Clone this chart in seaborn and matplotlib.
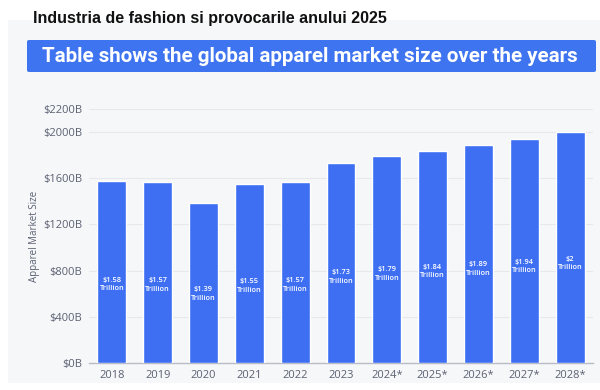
import matplotlib
matplotlib.use("Agg")
import matplotlib.pyplot as plt
import seaborn as sns
import pandas as pd
from matplotlib.patches import Rectangle, FancyBboxPatch

# chart data
years = ["2018", "2019", "2020", "2021", "2022", "2023",
         "2024*", "2025*", "2026*", "2027*", "2028*"]
market_size = [1580, 1570, 1390, 1550, 1570, 1730, 1790, 1840, 1890, 1940, 2000]  # $ billions
bar_labels = ["$1.58", "$1.57", "$1.39", "$1.55", "$1.57", "$1.73",
              "$1.79", "$1.84", "$1.89", "$1.94", "$2"]
y_ticks = [0, 400, 800, 1200, 1600, 2000, 2200]

df = pd.DataFrame({"year": years, "size": market_size})

sns.set_style("white")
plt.rcParams["font.family"] = ["Open Sans", "DejaVu Sans"]

bar_blue = "#3e6ff3"
grey_txt = "#5b6172"
panel = "#f6f7f9"

fig = plt.figure(figsize=(6, 3.9), dpi=100)
fig.patch.set_facecolor("white")

# light grey panel behind the chart
fig.patches.append(Rectangle((8 / 600, 7 / 390), 1, 363 / 390, transform=fig.transFigure,
                             facecolor=panel, edgecolor="none", zorder=-2))
# blue banner
fig.patches.append(FancyBboxPatch((27 / 600, 318 / 390), 569 / 600, 32 / 390,
                                  boxstyle="round,pad=0,rounding_size=0.004",
                                  transform=fig.transFigure, facecolor="#3f74f1",
                                  edgecolor="none", zorder=-1))

fig.text(33 / 600, 371 / 390, "Industria de fashion si provocarile anului 2025",
         fontsize=11.5, fontweight="bold", family=["Liberation Sans", "DejaVu Sans"],
         color="#111111", va="center", ha="left")
fig.text(310 / 600, 334 / 390, "Table shows the global apparel market size over the years",
         fontsize=14.8, fontweight="bold", family=["Roboto", "DejaVu Sans"],
         color="white", va="center", ha="center")

ax = fig.add_axes([89 / 600, 27 / 390, 504 / 600, 254 / 390])
ax.set_facecolor(panel)
sns.barplot(data=df, x="year", y="size", color=bar_blue, saturation=1,
            width=0.63, ax=ax, zorder=3)

ax.set_ylim(0, 2200)
ax.set_xlim(-0.5, len(years) - 0.5)
ax.set_yticks(y_ticks)
ax.set_yticklabels([f"${t}B" for t in y_ticks])
ax.yaxis.grid(True, color="#e6e8ec", linewidth=0.8, zorder=0)
ax.set_axisbelow(True)
for s in ["top", "right", "left"]:
    ax.spines[s].set_visible(False)
ax.spines["bottom"].set_color("#b8bcc6")
ax.spines["bottom"].set_linewidth(1)
ax.tick_params(axis="both", labelsize=8, colors=grey_txt, length=0)
ax.tick_params(axis="x", pad=5)
ax.tick_params(axis="y", pad=5)
for t in ax.get_xticklabels() + ax.get_yticklabels():
    t.set_fontweight("medium")
ax.set_xlabel("")
ax.set_ylabel("Apparel Market Size", fontsize=7, color=grey_txt, labelpad=2)

for i, (v, lab) in enumerate(zip(market_size, bar_labels)):
    ax.text(i, v * 0.43, lab + "\nTrillion", ha="center", va="center",
            fontsize=5.3, color="white", fontweight="semibold", linespacing=1.3, zorder=4)

fig.savefig("out.png", dpi=100, facecolor=fig.get_facecolor())
